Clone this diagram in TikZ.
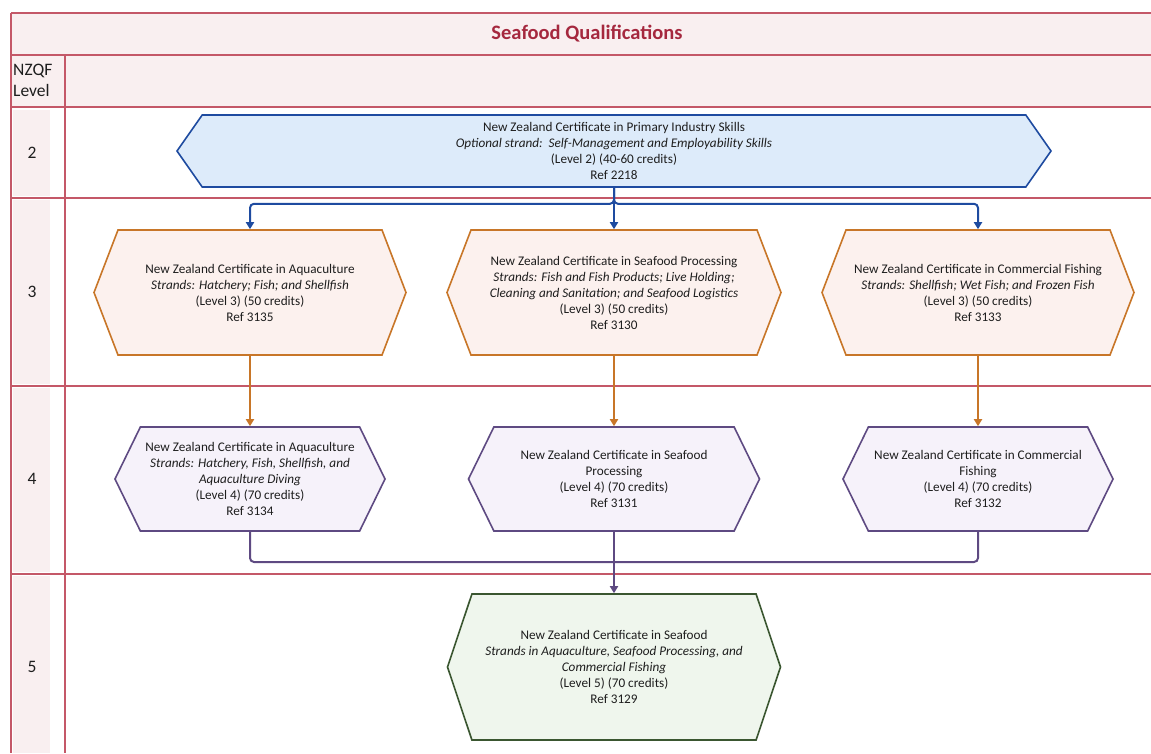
\documentclass[tikz,border=0pt]{standalone}
\usepackage{fontspec}
\setmainfont{Carlito}
\usetikzlibrary{shapes.symbols,arrows.meta}

\definecolor{tabline}{RGB}{196,88,104}
\definecolor{tabfill}{RGB}{249,239,240}
\definecolor{titlered}{RGB}{165,40,62}
\definecolor{txt}{RGB}{30,30,30}
\definecolor{blueline}{RGB}{30,75,160}
\definecolor{bluefill}{RGB}{221,235,250}
\definecolor{orangeline}{RGB}{200,118,40}
\definecolor{orangefill}{RGB}{252,241,238}
\definecolor{purpleline}{RGB}{94,74,130}
\definecolor{purplefill}{RGB}{246,242,250}
\definecolor{greenline}{RGB}{58,86,48}
\definecolor{greenfill}{RGB}{239,246,237}

\tikzset{
  qual/.style={shape=signal, signal to=west and east, draw, line width=1.6pt,
    align=center, inner sep=0pt, text=txt, font=\fontsize{13.2}{16}\selectfont},
  lvltwo/.style={qual, draw=blueline, fill=bluefill, minimum width=874pt,
    minimum height=72pt, signal pointer angle=110},
  lvlthree/.style={qual, draw=orangeline, fill=orangefill, minimum height=125pt,
    signal pointer angle=138},
  lvlfour/.style={qual, draw=purpleline, fill=purplefill, minimum height=104pt,
    signal pointer angle=128},
  lvlfive/.style={qual, draw=greenline, fill=greenfill, minimum height=146pt,
    signal pointer angle=143},
  lvlnum/.style={text=txt, font=\fontsize{17.5}{21}\selectfont},
  link/.style={line width=2pt, rounded corners=4pt}
}

\begin{document}
\begin{tikzpicture}[x=1pt, y=-1pt, >={Triangle[width=8pt,length=7pt]}]
\useasboundingbox (0,0) rectangle (1151,753);

% table background
\fill[tabfill] (11,13) rectangle (1151,107);
\foreach \ya/\yb in {110/196, 200/384, 388/572, 576/753}
  \fill[tabfill] (13,\ya) rectangle (50,\yb);
\foreach \yy in {13,55,107,198,386,574}
  \draw[tabline, line width=1.4pt] (11,\yy) -- (1151,\yy);
\draw[tabline, line width=1.4pt] (11,13) -- (11,753);
\draw[tabline, line width=1.4pt] (65,55) -- (65,753);

\node[text=titlered, font=\fontsize{20.5}{22}\selectfont\bfseries] (title) at (587,34) {Seafood Qualifications};
\node[lvlnum, align=left, anchor=west, inner sep=0pt] (nzqf) at (13,80) {NZQF\\Level};
\node[lvlnum] (n2) at (32,153) {2};
\node[lvlnum] (n3) at (32,292) {3};
\node[lvlnum] (n4) at (32,479) {4};
\node[lvlnum] (n5) at (32,667) {5};

% level 2
\node[lvltwo] (prim2) at (614,151) {New Zealand Certificate in Primary Industry Skills\\
  \textit{Optional strand:\ \ Self-Management and Employability Skills}\\
  (Level 2) (40-60 credits)\\ Ref 2218};

% level 3
\node[lvlthree, minimum width=312pt] (aqua3) at (250,292.5) {New Zealand Certificate in Aquaculture\\
  \textit{Strands: Hatchery; Fish; and Shellfish}\\ (Level 3) (50 credits)\\ Ref 3135};
\node[lvlthree, minimum width=334pt] (proc3) at (614,292.5) {New Zealand Certificate in Seafood Processing\\
  \textit{Strands: Fish and Fish Products; Live Holding;}\\
  \textit{Cleaning and Sanitation; and Seafood Logistics}\\ (Level 3) (50 credits)\\ Ref 3130};
\node[lvlthree, minimum width=312pt] (fish3) at (978,292.5) {New Zealand Certificate in Commercial Fishing\\
  \textit{Strands: Shellfish; Wet Fish; and Frozen Fish}\\ (Level 3) (50 credits)\\ Ref 3133};

% level 4
\node[lvlfour, minimum width=270pt] (aqua4) at (250,479) {New Zealand Certificate in Aquaculture\\
  \textit{Strands: Hatchery, Fish, Shellfish, and}\\ \textit{Aquaculture Diving}\\
  (Level 4) (70 credits)\\ Ref 3134};
\node[lvlfour, minimum width=291pt] (proc4) at (614,479) {New Zealand Certificate in Seafood\\
  Processing\\ (Level 4) (70 credits)\\ Ref 3131};
\node[lvlfour, minimum width=270pt] (fish4) at (978,479) {New Zealand Certificate in Commercial\\
  Fishing\\ (Level 4) (70 credits)\\ Ref 3132};

% level 5
\node[lvlfive, minimum width=333pt] (sea5) at (614,667) {New Zealand Certificate in Seafood\\
  \textit{Strands in Aquaculture, Seafood Processing, and}\\ \textit{Commercial Fishing}\\
  (Level 5) (70 credits)\\ Ref 3129};

% connectors
\draw[link, blueline, ->] (prim2.south) -- ++(0,16) -| (aqua3.north);
\draw[link, blueline, ->] (prim2.south) -- ++(0,16) -| (fish3.north);
\draw[link, blueline, ->] (prim2.south) -- (proc3.north);

\draw[link, orangeline, ->] (aqua3.south) -- (aqua4.north);
\draw[link, orangeline, ->] (proc3.south) -- (proc4.north);
\draw[link, orangeline, ->] (fish3.south) -- (fish4.north);

\coordinate (join) at (614,562);
\draw[link, purpleline] (aqua4.south) |- (join);
\draw[link, purpleline] (fish4.south) |- (join);
\draw[link, purpleline, ->] (proc4.south) -- (sea5.north);
\end{tikzpicture}
\end{document}
